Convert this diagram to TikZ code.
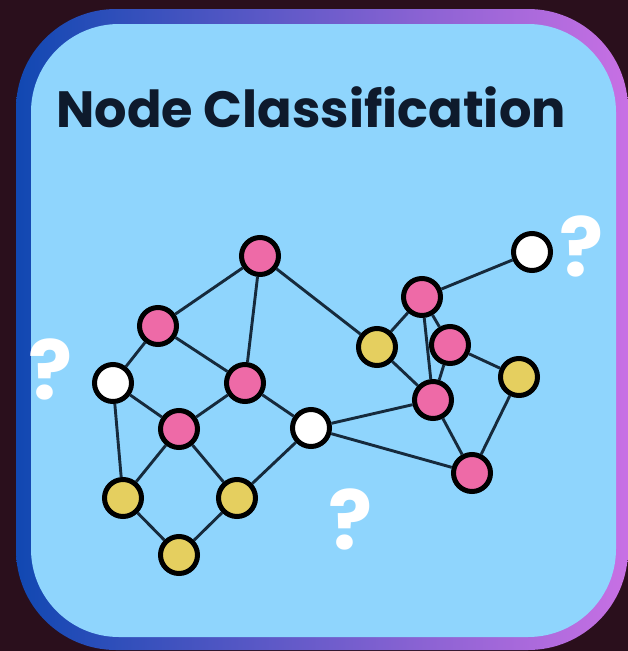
\documentclass[tikz,border=0pt]{standalone}
\usepackage{fontspec}
\newfontfamily\pop{Poppins}
\definecolor{bgdark}{HTML}{2A0F1C}
\definecolor{gblue}{HTML}{1148B2}
\definecolor{gmid}{HTML}{8A5CC8}
\definecolor{gpink}{HTML}{C870E4}
\definecolor{panel}{HTML}{8FD5FD}
\definecolor{titlec}{HTML}{0E1A2C}
\definecolor{npink}{HTML}{EE6AA7}
\definecolor{nyellow}{HTML}{E5CF5F}
\definecolor{edgec}{HTML}{162A3C}
\tikzset{
  gnode/.style={circle, draw=black, line width=5pt, minimum size=37pt, inner sep=0pt},
  pinknode/.style={gnode, fill=npink},
  yellownode/.style={gnode, fill=nyellow},
  whitenode/.style={gnode, fill=white},
  link/.style={draw=edgec, line width=2.9pt},
  qmark/.style={text=white, font=\pop\bfseries\fontsize{82}{82}\selectfont, inner sep=0pt}
}
\begin{document}
\begin{tikzpicture}[x=1pt,y=-1pt]
\fill[bgdark] (0,0) rectangle (628,651);
\useasboundingbox (0,0) rectangle (628,651);
\shade[left color=gblue, middle color=gmid, right color=gpink, rounded corners=100pt] (16,9) rectangle (628,650);
\fill[panel, rounded corners=88pt] (31,24) rectangle (616,637);

\node[anchor=base west, text=titlec, font=\pop\bfseries\fontsize{51}{51}\selectfont, inner sep=0pt] (title) at (56,127) {Node Classification};

\node[qmark] (q1) at (51,369) {?};
\node[qmark] (q2) at (582,246) {?};
\node[qmark] (q3) at (351,519) {?};

\node[pinknode] (n1) at (260,256) {};
\node[pinknode] (n2) at (158,326) {};
\node[whitenode] (n3) at (113,383) {};
\node[pinknode] (n4) at (245,383) {};
\node[pinknode] (n5) at (179,429) {};
\node[whitenode] (n6) at (311,428) {};
\node[yellownode] (n7) at (123,498) {};
\node[yellownode] (n8) at (237,498) {};
\node[yellownode] (n9) at (179,555) {};
\node[yellownode] (n10) at (377,347) {};
\node[pinknode] (n11) at (422,297) {};
\node[pinknode] (n12) at (450,345) {};
\node[pinknode] (n13) at (433,400) {};
\node[yellownode] (n14) at (519,377) {};
\node[pinknode] (n15) at (472,473) {};
\node[whitenode] (n16) at (532,252) {};

\foreach \a/\b in {n1/n2, n1/n4, n1/n10, n2/n3, n2/n4, n3/n5, n3/n7, n4/n5, n4/n6,
  n5/n7, n5/n8, n7/n9, n8/n9, n8/n6, n6/n13, n6/n15, n10/n11, n10/n13, n11/n16,
  n11/n13, n11/n12, n12/n13, n12/n14, n14/n15, n13/n15}
  \draw[link] (\a) -- (\b);
\end{tikzpicture}
\end{document}
